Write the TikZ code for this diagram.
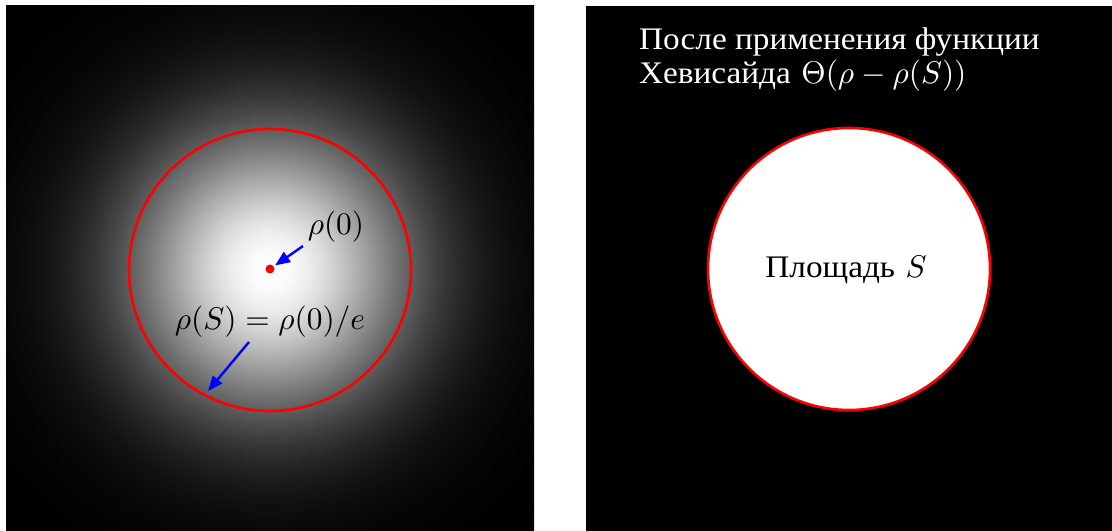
\documentclass[tikz,border=0pt]{standalone}
\usepackage{fontspec}
\newfontfamily\cyr[FakeStretch=1.06]{Liberation Serif}
\usetikzlibrary{arrows.meta}
\newcommand\bigtxt[1]{\scalebox{3.15}{#1}}
\pgfdeclareradialshading{gauss}{\pgfpoint{0bp}{0bp}}{%
 rgb(0bp)=(1,1,1);
 rgb(17.6bp)=(0.9845,0.9845,0.9845);
 rgb(35.3bp)=(0.9394,0.9394,0.9394);
 rgb(52.9bp)=(0.8688,0.8688,0.8688);
 rgb(70.5bp)=(0.7788,0.7788,0.7788);
 rgb(88.1bp)=(0.6766,0.6766,0.6766);
 rgb(105.8bp)=(0.5698,0.5698,0.5698);
 rgb(123.4bp)=(0.4650,0.4650,0.4650);
 rgb(141bp)=(0.3679,0.3679,0.3679);
 rgb(158.6bp)=(0.2821,0.2821,0.2821);
 rgb(176.3bp)=(0.2096,0.2096,0.2096);
 rgb(193.9bp)=(0.1510,0.1510,0.1510);
 rgb(211.5bp)=(0.1054,0.1054,0.1054);
 rgb(229.1bp)=(0.0713,0.0713,0.0713);
 rgb(246.8bp)=(0.0468,0.0468,0.0468);
 rgb(264.4bp)=(0.0297,0.0297,0.0297);
 rgb(282bp)=(0.0183,0.0183,0.0183);
 rgb(317.3bp)=(0.0063,0.0063,0.0063);
 rgb(352.5bp)=(0.0019,0.0019,0.0019);
 rgb(381bp)=(0.0007,0.0007,0.0007)}
\begin{document}
\begin{tikzpicture}[x=1bp,y=-1bp,
  lbl/.style={inner sep=0pt},
  ring/.style={circle, draw=red, line width=2.6bp, minimum size=282bp, inner sep=0pt},
  arr/.style={draw=blue, line width=2.4bp, -{Triangle[length=15bp,width=12bp]}}]
\useasboundingbox (0,0) rectangle (1112,531);
\begin{scope}
\clip (6,6) rectangle (534,531);
\node[inner sep=0pt] (glow) at (270,270) {\pgfuseshading{gauss}};
\end{scope}
\fill[black] (586,6) rectangle (1112,531);
% left panel
\node[ring] (c1) at (270,270) {};
\node[circle, fill=red, minimum size=9bp, inner sep=0pt] (p0) at (270,269) {};
\node[lbl, anchor=base] (rho0) at (336,235) {\bigtxt{$\rho(0)$}};
\node[lbl, anchor=base] (rhoS) at (270,330) {\bigtxt{$\rho(S) = \rho(0)/e$}};
\coordinate (a1) at (303,246);
\coordinate (a2) at (249,342);
\coordinate (b2) at (208,391);
\draw[arr, shorten >=1.5bp] (a1) -- (p0);
\draw[arr] (a2) -- (b2);
% right panel
\node[ring, fill=white] (c2) at (849,269) {};
\node[lbl, anchor=base] (area) at (846,278) {\bigtxt{{\cyr Площадь} $S$}};
\node[lbl, text=white, anchor=base west] (title) at (639,50) {\bigtxt{\renewcommand\arraystretch{0.9}%
  \begin{tabular}[t]{@{}l@{}}\cyr После применения функции\\
  {\cyr Хевисайда} $\Theta(\rho-\rho(S))$\end{tabular}}};
\end{tikzpicture}
\end{document}
